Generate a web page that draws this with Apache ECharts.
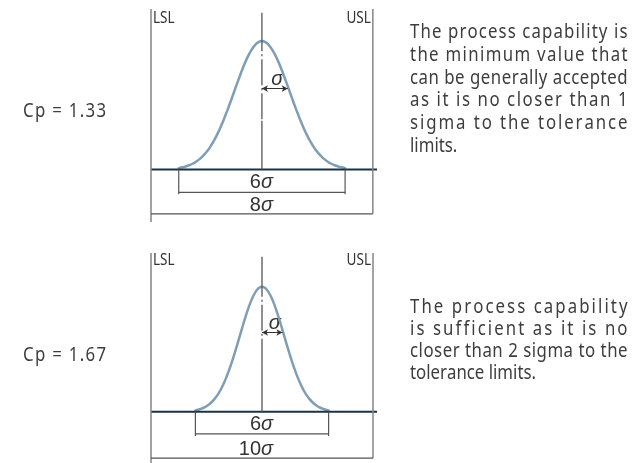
<!DOCTYPE html>
<html>
<head>
<meta charset="utf-8">
<title>Process capability Cp</title>
<script src="https://cdn.jsdelivr.net/npm/echarts@6/dist/echarts.min.js"></script>
<style>
  html, body { margin: 0; padding: 0; background: #fff; }
  #chart { width: 637px; height: 463px; }
</style>
</head>
<body>
<div id="chart"></div>
<script>
// normal curve, x in sigma, height relative to the peak
const sigmaSteps = [-3, -2.875, -2.75, -2.625, -2.5, -2.375, -2.25, -2.125, -2, -1.875, -1.75, -1.625,
                    -1.5, -1.375, -1.25, -1.125, -1, -0.875, -0.75, -0.625, -0.5, -0.375, -0.25, -0.125, 0,
                    0.125, 0.25, 0.375, 0.5, 0.625, 0.75, 0.875, 1, 1.125, 1.25, 1.375, 1.5,
                    1.625, 1.75, 1.875, 2, 2.125, 2.25, 2.375, 2.5, 2.625, 2.75, 2.875, 3];
const curveHeights = [0.01, 0.016, 0.023, 0.032, 0.044, 0.06, 0.08, 0.105, 0.135, 0.172, 0.216, 0.267,
                      0.325, 0.389, 0.458, 0.531, 0.607, 0.682, 0.755, 0.823, 0.883, 0.932, 0.969, 0.992, 1,
                      0.992, 0.969, 0.932, 0.883, 0.823, 0.755, 0.682, 0.607, 0.531, 0.458, 0.389, 0.325,
                      0.267, 0.216, 0.172, 0.135, 0.105, 0.08, 0.06, 0.044, 0.032, 0.023, 0.016, 0.01];

// LSL / USL in sigma for both cases
const toleranceLimits = [[-4, 4], [-5, 5]];
const processSpread = [-3, 3];
const sigmaArrowEnd = [0.93, 0.92];

const cpLabels = ['Cp = 1.33', 'Cp = 1.67'];
const spreadLabel = '6';
const toleranceLabels = ['8', '10'];
const paragraphs = [
    ['The process capability is', 'the minimum value that', 'can be generally accepted',
     'as it is no closer than 1', 'sigma to the tolerance', 'limits.'],
    ['The process capability', 'is sufficient as it is no', 'closer than 2 sigma to the',
     'tolerance limits.']
];

// layout of the two drawings (pixels / axis units)
const panels = [
    { top: 9, height: 213, xMax: 4.15, yMin: -0.41, yMax: 1.25, centerTop: 1.22,
      dimY: -0.179, tickY: -0.193, spanY: -0.346, arrowY: 0.63,
      dimGap: 3, spanGap: 1.5, textBase: 40, textStep: 22.8, cpBase: 119.5, limitBase: 25 },
    { top: 253, height: 211.2, xMax: 5.18, yMin: -0.41, yMax: 1.27, centerTop: 1.24,
      dimY: -0.177, tickY: -0.193, spanY: -0.371, arrowY: 0.634,
      dimGap: 2, spanGap: 2, textBase: 315, textStep: 22, cpBase: 363, limitBase: 267 }
];

const SANS = '"Noto Sans", "Open Sans", "DejaVu Sans", sans-serif';
const SANS_MID = 0.39;     // canvas 'middle' above the baseline, in em
const REGULAR = '"Liberation Sans", Arial, sans-serif';
const REGULAR_MID = 0.35;

const chart = echarts.init(document.getElementById('chart'));

function seg(i, pts, color, width, extra) {
    return Object.assign({
        type: 'line', xAxisIndex: i, yAxisIndex: i, data: pts,
        symbol: 'none', silent: true, clip: false,
        lineStyle: { color: color, width: width, cap: 'butt' }
    }, extra || {});
}

const grids = [], xAxes = [], yAxes = [], series = [];
panels.forEach(function (p, i) {
    const lo = toleranceLimits[i][0], hi = toleranceLimits[i][1];
    const s0 = processSpread[0], s1 = processSpread[1];
    grids.push({ left: 151, top: p.top, width: 226, height: p.height });
    xAxes.push({ type: 'value', gridIndex: i, min: lo, max: p.xMax, show: false });
    yAxes.push({ type: 'value', gridIndex: i, min: p.yMin, max: p.yMax, show: false });

    // bell curve
    series.push(seg(i, sigmaSteps.map((s, k) => [s, curveHeights[k]]), '#7f9db4', 2.5,
        { smooth: 0.2, lineStyle: { color: '#7f9db4', width: 2.5, cap: 'round' } }));
    // base line
    series.push(seg(i, [[lo, 0], [p.xMax, 0]], '#1d3142', 2));
    // tolerance limits
    series.push(seg(i, [[lo, p.yMin], [lo, p.yMax]], '#858585', 1.5));
    series.push(seg(i, [[hi, p.spanY], [hi, p.yMax]], '#858585', 1.5));
    // centre line: solid, dash-dot, solid
    series.push(seg(i, [[0, p.centerTop], [0, 0.92]], '#555', 1.3));
    series.push(seg(i, [[0, 0.92], [0, 0.38]], '#555', 1.3,
        { lineStyle: { color: '#555', width: 1.3, type: [26, 3, 2, 3], dashOffset: 26 } }));
    series.push(seg(i, [[0, 0.38], [0, 0]], '#555', 1.3, {
        markLine: {
            silent: true, symbol: ['arrow', 'arrow'], symbolSize: [5, 6],
            label: { show: false },
            lineStyle: { color: '#333', width: 1, type: 'solid' },
            data: [[{ coord: [0, p.arrowY] }, { coord: [sigmaArrowEnd[i], p.arrowY] }]]
        }
    }));
    // 6 sigma dimension
    series.push(seg(i, [[s0, 0], [s0, p.tickY]], '#555', 1.2));
    series.push(seg(i, [[s1, 0], [s1, p.tickY]], '#555', 1.2));
    series.push(seg(i, [[s0, p.dimY], [s1, p.dimY]], '#555', 1.2));
    // tolerance dimension
    series.push(seg(i, [[lo, p.spanY], [hi, p.spanY]], '#555', 1.2));
});

chart.setOption({
    animation: false,
    grid: grids, xAxis: xAxes, yAxis: yAxes, series: series
});

// texts
const ctx = document.createElement('canvas').getContext('2d');
const graphic = [];

function addText(str, x, baseline, size, family, mid, fill, align, opts) {
    opts = opts || {};
    const font = (opts.italic ? 'italic ' : '') + size + 'px ' + family;
    graphic.push({
        type: 'text', x: x, y: baseline - mid * size, silent: true,
        scaleX: opts.scaleX || 1,
        style: { text: str, font: font, fill: fill, align: align, verticalAlign: 'middle' }
    });
}

function charWidths(str, size) {
    ctx.font = size + 'px ' + SANS;
    return Array.from(str).map(c => ctx.measureText(c).width);
}

// condensed, letter-spaced justified line
function placeLine(str, left, width, baseline, size, squeeze, justify, fill) {
    const chars = Array.from(str);
    const ws = charWidths(str, size).map(w => w * squeeze);
    const total = ws.reduce((a, b) => a + b, 0);
    const extra = justify && chars.length > 1 ? (width - total) / (chars.length - 1) : 0;
    let x = left;
    chars.forEach(function (c, k) {
        if (c !== ' ') addText(c, x, baseline, size, SANS, SANS_MID, fill, 'left', { scaleX: squeeze });
        x += ws[k] + extra;
    });
}

const textLeft = 410, textWidth = 217.5, textSize = 20;
let squeeze = 0.84;
paragraphs.forEach(function (lines) {
    lines.slice(0, -1).forEach(function (l) {
        const w = charWidths(l, textSize).reduce((a, b) => a + b, 0);
        squeeze = Math.min(squeeze, textWidth / w);
    });
});

panels.forEach(function (p, i) {
    const lo = toleranceLimits[i][0], hi = toleranceLimits[i][1];
    const px = v => chart.convertToPixel({ gridIndex: i }, v);

    paragraphs[i].forEach(function (l, k) {
        placeLine(l, textLeft, textWidth, p.textBase + k * p.textStep, textSize, squeeze,
            k < paragraphs[i].length - 1, '#3d3d3d');
    });
    placeLine(cpLabels[i], 23, 83, p.cpBase, textSize, squeeze, true, '#3d3d3d');

    addText('LSL', px([lo, 0])[0] + 2, p.limitBase, 16.5, SANS, SANS_MID, '#333', 'left', { scaleX: 0.82 });
    addText('USL', px([hi, 0])[0] - 2, p.limitBase, 16.5, SANS, SANS_MID, '#333', 'right', { scaleX: 0.82 });

    const cx = px([0, 0])[0] - 1;
    const dimBase = px([0, p.dimY])[1] - p.dimGap;
    addText(spreadLabel, cx, dimBase, 20, REGULAR, REGULAR_MID, '#333', 'right');
    addText('\u03c3', cx, dimBase, 20, REGULAR, REGULAR_MID, '#333', 'left', { italic: true });
    const spanBase = px([0, p.spanY])[1] - p.spanGap;
    addText(toleranceLabels[i], cx, spanBase, 20, REGULAR, REGULAR_MID, '#333', 'right');
    addText('\u03c3', cx, spanBase, 20, REGULAR, REGULAR_MID, '#333', 'left', { italic: true });

    const a0 = px([0, p.arrowY]), a1 = px([sigmaArrowEnd[i], p.arrowY]);
    addText('\u03c3', (a0[0] + a1[0]) / 2 + 2.5, a0[1] - 2.5, 20, REGULAR, REGULAR_MID, '#333', 'center', { italic: true });
});

chart.setOption({ graphic: graphic });
</script>
</body>
</html>
